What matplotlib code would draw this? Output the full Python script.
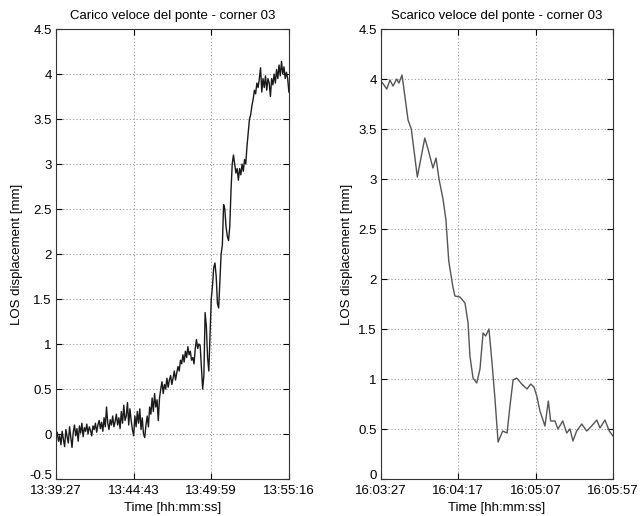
import numpy as np
import matplotlib
matplotlib.use('Agg')
import matplotlib.pyplot as plt
import matplotlib.ticker as ticker

plt.rcParams['font.family'] = ['Liberation Sans', 'DejaVu Sans']

# --- carico veloce (loading), one sample every ~5 s from 13:39:27 ---
carico_dt = 5.02
carico_mm = [
    -0.05, 0.02, -0.08, -0.02, -0.12, 0.03, -0.06, -0.14, 0.05, -0.03,
    -0.10, 0.08, -0.04, -0.15, 0.02, 0.10, -0.02, 0.06, -0.08, 0.09,
    0.01, 0.12, -0.03, 0.07, 0.03, 0.11, 0.00, 0.08, 0.04, -0.02, 0.09,
    0.05, 0.12, 0.02, 0.10, 0.15, 0.06, 0.13, 0.03, 0.18, 0.08,
    0.30, 0.12, 0.05, 0.16, 0.10, 0.20, 0.08, 0.14, 0.22, 0.10,
    0.18, 0.06, 0.25, 0.12, 0.32, 0.15, 0.20, 0.35, 0.10, 0.28,
    0.15, 0.05, -0.02, 0.20, 0.08, 0.25, 0.12, 0.28, 0.05, 0.18,
    0.00, -0.04, 0.10, 0.20, 0.08, 0.30, 0.22, 0.40, 0.25, 0.45,
    0.30, 0.38, 0.15, 0.40, 0.50, 0.58, 0.45, 0.55, 0.50, 0.62,
    0.52, 0.60, 0.65, 0.55, 0.62, 0.70, 0.60, 0.68, 0.75, 0.70,
    0.82, 0.78, 0.88, 0.80, 0.92, 0.85, 0.97, 0.88, 0.92, 0.82,
    0.85, 0.78, 0.95, 1.05, 0.95, 1.00, 0.98, 0.75, 0.50, 0.65,
    1.35, 1.20, 0.85, 0.70, 1.10, 1.50, 1.65, 1.85, 1.90, 1.75,
    1.45, 1.40, 1.70, 2.00, 2.10, 2.55, 2.50, 2.30, 2.20, 2.15,
    2.30, 2.70, 3.00, 3.10, 3.00, 2.90, 2.95, 2.82, 2.95, 2.88,
    3.00, 2.92, 3.05, 3.00, 3.20, 3.35, 3.50, 3.55, 3.65, 3.72,
    3.82, 3.78, 3.90, 3.85, 3.95, 4.07, 3.80, 3.95, 3.85, 3.98,
    3.82, 3.95, 3.90, 3.75, 3.95, 3.88, 4.00, 3.90, 4.05, 3.95,
    4.10, 3.98, 4.14, 4.00, 4.08, 3.95, 4.02, 3.95, 3.80,
]
carico_ticks = ['13:39:27', '13:44:43', '13:49:59', '13:55:16']
carico_tick_s = [0, 316, 632, 949]

# --- scarico veloce (unloading), seconds from 16:03:27 ---
scarico_s = [
    0.0, 1.5, 3.7, 5.8, 7.8, 10.1, 11.6, 13.6, 17.5, 19.6,
    23.5, 28.3, 30.4, 33.6, 35.6, 37.5, 40.1, 42.0, 43.8, 46.5,
    47.8, 51.1, 54.3, 56.3, 57.5, 59.5, 61.9, 64.0, 66.0, 67.7,
    69.8, 71.8, 73.7, 75.7, 78.7, 81.5, 83.4, 85.4, 87.7, 91.0,
    94.4, 96.8, 98.9, 100.7, 102.8, 106.0, 108.2, 109.7, 112.5, 114.4,
    117.5, 120.1, 122.2, 124.1, 126.5, 129.8, 133.0, 136.2, 139.5, 141.6,
    144.8, 147.6, 150.0,
]
scarico_mm = [
    3.98, 3.95, 3.90, 3.99, 3.93, 4.00, 3.96, 4.04, 3.59, 3.50,
    3.02, 3.41, 3.30, 3.11, 3.21, 3.00, 2.80, 2.59, 2.18, 1.92,
    1.83, 1.82, 1.76, 1.56, 1.23, 1.01, 0.96, 1.10, 1.46, 1.43,
    1.50, 1.16, 0.80, 0.37, 0.48, 0.46, 0.73, 0.99, 1.01, 0.95,
    0.90, 0.95, 0.92, 0.83, 0.68, 0.53, 0.78, 0.58, 0.58, 0.50,
    0.58, 0.46, 0.50, 0.38, 0.48, 0.55, 0.48, 0.53, 0.59, 0.51,
    0.59, 0.48, 0.43,
]
scarico_ticks = ['16:03:27', '16:04:17', '16:05:07', '16:05:57']
scarico_tick_s = [0, 50, 100, 150]


def style_axes(ax, xt, xtl, ymin):
    ax.set_xticks(xt)
    ax.set_xticklabels(xtl)
    ax.set_ylim(ymin, 4.5)
    yt = np.arange(ymin, 4.51, 0.5)
    ax.set_yticks(yt)
    ax.set_yticklabels(['%g' % v for v in yt])
    ax.tick_params(direction='in', top=True, right=True, length=4,
                   labelsize=9.5)
    ax.tick_params(axis='x', pad=4)
    ax.tick_params(axis='y', pad=3)
    # bottom y label sits on its tick so it clears the first time label
    ax.get_yticklabels()[0].set_verticalalignment('baseline')
    ax.grid(True, linestyle=(0, (1, 2)), color='#999999', linewidth=0.8)
    for s in ax.spines.values():
        s.set_color('#333333')
        s.set_linewidth(0.8)
    ax.set_xlabel('Time [hh:mm:ss]', fontsize=9.5, labelpad=4)
    ax.set_ylabel('LOS displacement [mm]', fontsize=9.5, labelpad=4)


fig = plt.figure(figsize=(6.4, 5.16), dpi=100)

ax1 = fig.add_axes([0.0875, 0.0717, 0.364, 0.872])
t1 = np.arange(len(carico_mm)) * carico_dt
ax1.plot(t1, carico_mm, color='#1a1a1a', linewidth=1.0)
ax1.set_xlim(carico_tick_s[0], carico_tick_s[-1])
style_axes(ax1, carico_tick_s, carico_ticks, -0.5)
ax1.set_title('Carico veloce del ponte - corner 03', fontsize=9.5, pad=7)

ax2 = fig.add_axes([0.5953, 0.0717, 0.3625, 0.872])
ax2.plot(scarico_s, scarico_mm, color='#555555', linewidth=1.0)
ax2.set_xlim(scarico_tick_s[0], scarico_tick_s[-1])
style_axes(ax2, scarico_tick_s, scarico_ticks, 0)
ax2.set_title('Scarico veloce del ponte - corner 03', fontsize=9.5, pad=7)

fig.savefig('out.png', dpi=100)
